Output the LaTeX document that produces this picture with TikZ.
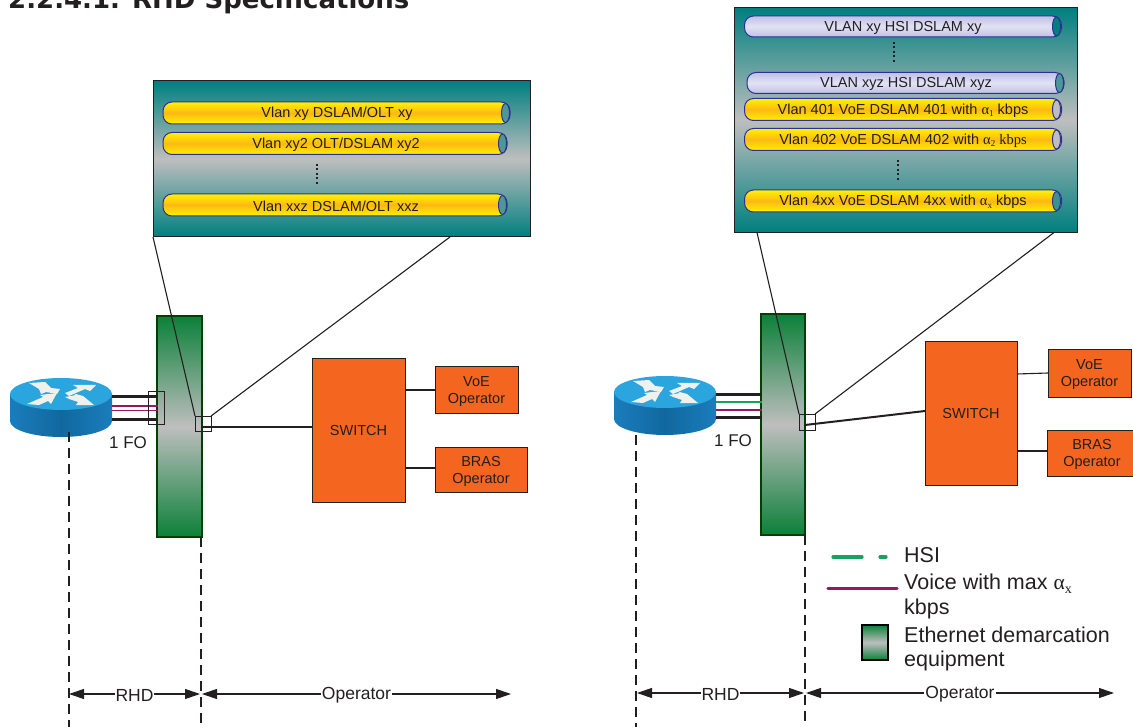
\documentclass[tikz,border=0pt]{standalone}
\usepackage{fontspec}
\setmainfont{Liberation Sans}
\newfontfamily\titlefont{DejaVu Sans}
\newfontfamily\gk{Liberation Serif}
\usetikzlibrary{arrows.meta,shapes.geometric}
\definecolor{ink}{HTML}{231F20}
\definecolor{teal1}{HTML}{007F7F}
\definecolor{midgrey}{HTML}{BEBEBE}
\definecolor{eqgreen}{HTML}{0C8039}
\definecolor{orangebox}{HTML}{F4651F}
\definecolor{tubeblue}{HTML}{2E3192}
\definecolor{purp}{HTML}{96195F}
\definecolor{grn}{HTML}{17A261}
\definecolor{lilac}{HTML}{BFC0E6}
\definecolor{lilacl}{HTML}{E2E2F4}
\definecolor{tubey}{HTML}{FFF200}
\definecolor{tubeo}{HTML}{FDB913}
\definecolor{rtop}{HTML}{2AA5DE}
\definecolor{rside}{HTML}{1A7DBB}
\definecolor{rsided}{HTML}{11689F}
\definecolor{rwhite}{HTML}{F1F1EC}
\newcommand{\al}[2][9]{{\gk α}\raisebox{-0.35ex}{\gk\fontsize{#1}{#1}\selectfont #2}}
\tikzset{
  box/.style={draw=ink,inner sep=0pt,outer sep=0pt,line width=1pt,anchor=north west},
  panelbox/.style={box,top color=teal1,bottom color=teal1,middle color=midgrey,line width=1pt},
  equipbox/.style={box,top color=eqgreen,bottom color=eqgreen,middle color=midgrey,draw=black!75!green,line width=1.1pt},
  opbox/.style={box,fill=orangebox,font=\fontsize{14.5}{17}\selectfont,align=center,text=ink,text depth=0pt},
  tubebase/.style={draw=tubeblue,line width=1pt,rounded corners=9pt,inner sep=0pt,outer sep=0pt,anchor=north west},
  ytube/.style={tubebase,top color=tubey,bottom color=tubey,middle color=tubeo},
  btube/.style={tubebase,top color=lilac,bottom color=lilac,middle color=lilacl},
  yend/.style={ellipse,draw=tubeblue,line width=1pt,fill=teal1!60!midgrey,inner sep=0pt,minimum width=8pt,minimum height=19pt},
  tubetext/.style={font=\fontsize{14.5}{16}\selectfont,text=ink,inner sep=0pt,yshift=-1pt},
  plain/.style={font=\fontsize{17}{19}\selectfont,text=ink,inner sep=0pt},
  dimlabel/.style={font=\fontsize{17.5}{19}\selectfont,text=ink,fill=white,inner sep=1pt,yshift=-1pt},
  legendtext/.style={font=\fontsize{21.5}{24}\selectfont,text=ink,inner sep=0pt,anchor=west},
  connector/.style={draw=ink,line width=1.1pt},
  heavy/.style={draw=ink,line width=3pt},
  feed/.style={draw=ink,line width=2pt},
  voice/.style={draw=purp,line width=1.8pt},
  hsi/.style={draw=grn,line width=1.8pt},
  dimline/.style={draw=ink,line width=1.1pt,{Triangle[length=15pt,width=10pt]}-{Triangle[length=15pt,width=10pt]}},
  vdash/.style={draw=ink,line width=1.1pt,dash pattern=on 10pt off 6pt},
  vdots/.style={draw=ink,line width=1.8pt,dash pattern=on 2pt off 2.5pt},
}
\newcommand{\routerat}[2]{%
 \begin{scope}[shift={(#1,#2)}]
  \path[left color=rside,right color=rside,middle color=rsided]
    (-51,0) -- (-51,27) arc[x radius=51,y radius=16,start angle=180,end angle=0] -- (51,0) -- cycle;
  \path[fill=rtop] (0,0) ellipse[x radius=51,y radius=16];
  \path[fill=rwhite] (-32,-11) -- (-16,-12) -- (-10,-6) -- (-1,-5) -- (-4,0) -- (-15,-2) -- (-20,0) -- (-22,-5) -- cycle;
  \path[fill=rwhite] (4,-1) -- (17,-6) -- (12,-9) -- (35,-9) -- (29,-3) -- (24,-5) -- (8,2) -- cycle;
  \path[fill=rwhite] (-34,10) -- (-18,3) -- (-21,1) -- (-4,-1) -- (-10,10) -- (-13,7) -- (-22,11) -- cycle;
  \path[fill=rwhite] (4,3) -- (15,1) -- (11,-1) -- (22,2) -- (33,11) -- (15,11) -- (17,8) -- (8,5) -- cycle;
 \end{scope}}
\begin{document}
\begin{tikzpicture}[x=1pt,y=-1pt]
\useasboundingbox (0,0) rectangle (1133,727);
\clip (0,0) rectangle (1133,727);
\node[anchor=base west,inner sep=0pt,font=\titlefont\bfseries\fontsize{26}{28}\selectfont,text=ink] (title) at (8,9) {2.2.4.1. RHD Specifications};

% ---------- left diagram ----------
\routerat{61}{394}
\coordinate (rLa) at (112,396.5); \coordinate (rLb) at (112,406); \coordinate (rLc) at (112,410.5); \coordinate (rLd) at (112,419.5);
\coordinate (eLa) at (158,396.5); \coordinate (eLb) at (158,406); \coordinate (eLc) at (158,410.5); \coordinate (eLd) at (158,419.5);
\node[equipbox,minimum width=45pt,minimum height=221pt] (eqL) at (157,316) {};
\draw[heavy] (rLa) -- (eLa); \draw[heavy] (rLd) -- (eLd);
\draw[voice] (rLb) -- (eLb); \draw[voice] (rLc) -- (eLc);
\node[box,minimum width=16pt,minimum height=33pt] (zoomLa) at (148,391) {};
\node[box,minimum width=16pt,minimum height=15pt] (zoomLb) at (195,416) {};
\node[panelbox,minimum width=377pt,minimum height=156pt] (panelL) at (153,81) {};
\draw[connector] (panelL.south west) -- (zoomLb.north west);
\coordinate (pLr) at (450,237);
\draw[connector] (pLr) -- (zoomLb.north east);

\node[ytube,minimum width=347pt,minimum height=22pt] (t1) at (163,102) {};
\node[yend] (t1e) at (505.5,113) {};
\node[tubetext] (t1t) at (337,113) {Vlan xy DSLAM/OLT xy};
\node[ytube,minimum width=344pt,minimum height=22pt] (t2) at (163,132.5) {};
\node[yend] (t2e) at (502.5,143.5) {};
\node[tubetext] (t2t) at (336,143.5) {Vlan xy2 OLT/DSLAM xy2};
\coordinate (dLa) at (317,164); \coordinate (dLb) at (317,186);
\draw[vdots] (dLa) -- (dLb);
\node[ytube,minimum width=344pt,minimum height=22pt] (t3) at (163,194) {};
\node[yend] (t3e) at (502.5,205) {};
\node[tubetext] (t3t) at (336,205) {Vlan xxz DSLAM/OLT xxz};

\node[plain] (foL) at (128,443) {1 FO};
\node[opbox,minimum width=93pt,minimum height=143pt] (swL) at (312,359) {SWITCH};
\node[opbox,minimum width=83pt,minimum height=46pt] (voeL) at (435,367) {VoE\\Operator};
\node[opbox,minimum width=92pt,minimum height=45pt] (brasL) at (435,447) {BRAS\\Operator};
\coordinate (fLs) at (201,426.5);
\draw[feed] (fLs) -- (swL.west |- fLs);
\draw[connector] (swL.east |- 0,390) -- (voeL.west |- 0,390);
\draw[connector] (swL.east |- 0,468) -- (brasL.west |- 0,468);

\coordinate (dRHDa) at (69,432); \coordinate (dRHDb) at (69,727);
\coordinate (dOpa) at (201,537); \coordinate (dOpb) at (201,727);
\draw[vdash] (dRHDa) -- (dRHDb); \draw[vdash] (dOpa) -- (dOpb);
\coordinate (aL) at (69,694); \coordinate (bL) at (200,694); \coordinate (cL) at (202,694); \coordinate (dL) at (511,694);
\draw[dimline] (aL) -- node[dimlabel] {RHD} (bL);
\draw[dimline] (cL) -- node[dimlabel] {Operator} (dL);

% ---------- right diagram ----------
\routerat{665}{392}
\coordinate (rRa) at (716,394.5); \coordinate (rRb) at (716,402); \coordinate (rRc) at (716,410); \coordinate (rRd) at (716,417.5);
\coordinate (eRa) at (762,394.5); \coordinate (eRb) at (762,402); \coordinate (eRc) at (762,410); \coordinate (eRd) at (762,417.5);
\node[equipbox,minimum width=44pt,minimum height=221pt] (eqR) at (761,314) {};
\draw[heavy] (rRa) -- (eRa); \draw[heavy] (rRd) -- (eRd);
\draw[hsi] (rRb) -- (eRb); \draw[voice] (rRc) -- (eRc);
\node[box,minimum width=16pt,minimum height=16pt] (zoomR) at (799,414) {};
\node[panelbox,minimum width=343pt,minimum height=225pt] (panelR) at (734,7.5) {};
\coordinate (pRl) at (757,232.5); \coordinate (pRr) at (1054,232.5);
\draw[connector] (pRl) -- (zoomR.north west);
\draw[connector] (pRr) -- (zoomR.north east);

\node[btube,minimum width=317pt,minimum height=21pt] (u1) at (744.5,16) {};
\node[yend,fill=teal1] (u1e) at (1056.5,26.5) {};
\node[tubetext] (u1t) at (903,26.5) {VLAN xy HSI DSLAM xy};
\coordinate (dRa) at (894,42); \coordinate (dRb) at (894,64);
\draw[vdots] (dRa) -- (dRb);
\node[btube,minimum width=317pt,minimum height=21pt] (u2) at (747,72.5) {};
\node[yend,fill=teal1!60!midgrey] (u2e) at (1059.5,83) {};
\node[tubetext] (u2t) at (906,83) {VLAN xyz HSI DSLAM xyz};
\node[ytube,minimum width=317pt,minimum height=22pt] (u3) at (744.5,98.5) {};
\node[yend,fill=midgrey] (u3e) at (1056.5,109.5) {};
\node[tubetext] (u3t) at (903,109.5) {Vlan 401 VoE DSLAM 401 with \al{1} kbps};
\node[ytube,minimum width=317pt,minimum height=22pt] (u4) at (744.5,128.5) {};
\node[yend,fill=midgrey] (u4e) at (1056.5,139.5) {};
\node[tubetext] (u4t) at (903,139.5) {Vlan 402 VoE DSLAM 402 with \al{2} {\gk kbps}};
\coordinate (dRc) at (898,160); \coordinate (dRd) at (898,182);
\draw[vdots] (dRc) -- (dRd);
\node[ytube,minimum width=317pt,minimum height=22pt] (u5) at (744.5,190) {};
\node[yend,fill=teal1!70!midgrey] (u5e) at (1056.5,201) {};
\node[tubetext] (u5t) at (903,201) {Vlan 4xx VoE DSLAM 4xx with \al{x} kbps};

\node[plain] (foR) at (733,441) {1 FO};
\node[opbox,minimum width=92pt,minimum height=143pt] (swR) at (925,342) {SWITCH};
\node[opbox,minimum width=83pt,minimum height=47pt] (voeR) at (1048,350) {VoE\\Operator};
\node[opbox,minimum width=90pt,minimum height=46pt] (brasR) at (1047,430) {BRAS\\Operator};
\coordinate (fRs) at (805,425); \coordinate (fRe) at (925,411);
\draw[feed] (fRs) -- (fRe);
\draw[connector] (swR.east |- 0,374) -- (voeR.west |- 0,373);
\draw[connector] (swR.east |- 0,451) -- (brasR.west |- 0,451);

\coordinate (dR1a) at (636,435); \coordinate (dR1b) at (636,727);
\coordinate (dR2a) at (805,535); \coordinate (dR2b) at (805,727);
\draw[vdash] (dR1a) -- (dR1b); \draw[vdash] (dR2a) -- (dR2b);
\coordinate (aR) at (637,693); \coordinate (bR) at (804,693); \coordinate (cR) at (806,693); \coordinate (dR) at (1114,693);
\draw[dimline] (aR) -- node[dimlabel] {RHD} (bR);
\draw[dimline] (cR) -- node[dimlabel] {Operator} (dR);

% ---------- legend ----------
\coordinate (l1a) at (833,557); \coordinate (l1b) at (862,557); \coordinate (l1c) at (880,557); \coordinate (l1d) at (886,557);
\draw[hsi,line width=3.2pt,line cap=round] (l1a) -- (l1b);
\draw[hsi,line width=3.2pt,line cap=round] (l1c) -- (l1d);
\coordinate (l2a) at (828,588.5); \coordinate (l2b) at (897,588.5);
\draw[voice,line width=3.2pt,line cap=round] (l2a) -- (l2b);
\node[box,draw=black,top color=eqgreen,bottom color=eqgreen,middle color=midgrey,line width=1.1pt,minimum width=26pt,minimum height=35pt] (legeq) at (862,625) {};
\node[legendtext] (lt1) at (904,555) {HSI};
\node[legendtext] (lt2) at (904,583.5) {Voice with max \al[14]{x}};
\node[legendtext] (lt3) at (904,609) {kbps};
\node[legendtext] (lt4) at (904,634.5) {Ethernet demarcation};
\node[legendtext] (lt5) at (904,661) {equipment};
\end{tikzpicture}
\end{document}
